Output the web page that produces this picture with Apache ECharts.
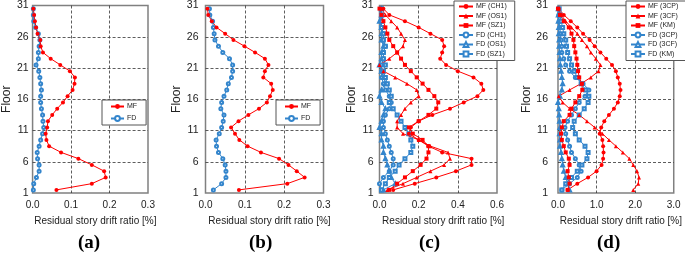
<!DOCTYPE html>
<html><head><meta charset="utf-8">
<script src="https://cdn.jsdelivr.net/npm/echarts/dist/echarts.min.js"></script>
<style>html,body{margin:0;padding:0;background:#fff}#c{width:685px;height:254px}</style>
</head><body><div id="c"></div>
<script>
// floor positions (story mid-heights)
const floors = [1.5,2.5,3.5,4.5,5.5,6.5,7.5,8.5,9.5,10.5,11.5,12.5,13.5,14.5,15.5,16.5,17.5,18.5,19.5,20.5,21.5,22.5,23.5,24.5,25.5,26.5,27.5,28.5,29.5,30.5];
const yTicks = [1,6,11,16,21,26,31];
const xMaxes = [0.3, 0.3, 0.6, 3.0];
const xSteps = [0.1, 0.1, 0.2, 1.0];
const panelLabels = ['(a)','(b)','(c)','(d)'];
const xName = 'Residual story drift ratio [%]';
const yName = 'Floor';

// (a)
const mfA = [0.062,0.154,0.190,0.186,0.154,0.119,0.074,0.043,0.036,0.034,0.038,0.040,0.051,0.064,0.079,0.091,0.104,0.109,0.110,0.097,0.072,0.047,0.027,0.021,0.020,0.013,0.009,0.006,0.004,0.002];
const fdA = [0.002,0.003,0.010,0.017,0.017,0.013,0.012,0.017,0.021,0.026,0.029,0.027,0.026,0.023,0.021,0.021,0.023,0.021,0.019,0.016,0.009,0.015,0.015,0.017,0.019,0.015,0.008,0.003,0.002,0.002];
// (b)
const mfB = [0.085,0.208,0.252,0.232,0.211,0.187,0.141,0.107,0.086,0.075,0.065,0.084,0.109,0.136,0.156,0.164,0.171,0.167,0.147,0.151,0.160,0.151,0.126,0.099,0.071,0.050,0.028,0.016,0.007,0.005];
const fdB = [0.020,0.041,0.052,0.052,0.050,0.044,0.033,0.028,0.027,0.035,0.041,0.045,0.047,0.039,0.041,0.047,0.054,0.058,0.066,0.069,0.069,0.061,0.044,0.033,0.024,0.022,0.020,0.018,0.011,0.010];
// (c)
const mfCH1 = [0.07,0.18,0.29,0.39,0.47,0.47,0.32,0.25,0.20,0.15,0.16,0.20,0.27,0.36,0.43,0.50,0.53,0.52,0.48,0.40,0.34,0.31,0.32,0.33,0.32,0.26,0.20,0.13,0.05,0.02];
const mfOS1 = [0.04,0.12,0.19,0.26,0.33,0.36,0.35,0.26,0.20,0.12,0.09,0.09,0.11,0.13,0.16,0.20,0.19,0.14,0.08,0.02,0.00,0.05,0.09,0.12,0.13,0.11,0.09,0.06,0.03,0.01];
const mfSZ1 = [0.05,0.09,0.13,0.17,0.21,0.24,0.25,0.25,0.22,0.17,0.15,0.20,0.25,0.29,0.30,0.28,0.25,0.22,0.19,0.16,0.13,0.11,0.09,0.07,0.05,0.04,0.03,0.02,0.01,0.00];
const fdCH1 = [0.01,0.00,0.02,0.05,0.07,0.07,0.06,0.05,0.04,0.03,0.02,0.02,0.03,0.05,0.06,0.05,0.03,0.02,0.01,0.01,0.01,0.02,0.02,0.03,0.02,0.02,0.01,0.01,0.01,0.01];
const fdOS1 = [0.02,0.08,0.06,0.05,0.04,0.03,0.02,0.02,0.01,0.01,0.00,0.01,0.02,0.03,0.01,0.00,0.01,0.03,0.02,0.01,0.00,0.01,0.01,0.02,0.01,0.01,0.01,0.00,0.01,0.01];
const fdSZ1 = [0.01,0.03,0.05,0.08,0.10,0.13,0.16,0.17,0.16,0.15,0.13,0.11,0.09,0.07,0.05,0.06,0.05,0.04,0.03,0.02,0.03,0.02,0.02,0.03,0.02,0.02,0.01,0.01,0.01,0.01];
// (d)
const mf3CP = [0.25,0.50,0.78,1.00,1.13,1.17,1.18,1.17,1.15,1.08,1.12,1.20,1.32,1.45,1.55,1.60,1.62,1.60,1.55,1.50,1.40,1.25,1.10,0.95,0.82,0.65,0.50,0.33,0.15,0.02];
const mf3CF = [1.95,2.08,2.10,2.05,1.95,1.85,1.68,1.50,1.32,1.15,0.95,0.75,0.55,0.30,0.12,0.02,0.30,0.60,0.85,1.05,1.10,0.98,0.85,0.75,0.62,0.50,0.35,0.20,0.08,0.02];
const mfKM  = [0.25,0.30,0.28,0.25,0.30,0.28,0.20,0.15,0.10,0.08,0.10,0.15,0.30,0.35,0.45,0.55,0.63,0.62,0.55,0.52,0.50,0.48,0.45,0.42,0.40,0.35,0.28,0.15,0.05,0.00];
const fd3CP = [0.10,0.30,0.50,0.60,0.55,0.45,0.35,0.30,0.25,0.20,0.18,0.25,0.35,0.45,0.55,0.70,0.80,0.65,0.45,0.30,0.20,0.15,0.10,0.10,0.08,0.06,0.05,0.03,0.02,0.01];
const fd3CF = [0.30,0.25,0.20,0.15,0.12,0.10,0.08,0.05,0.05,0.04,0.05,0.04,0.03,0.02,0.00,0.05,0.10,0.12,0.10,0.08,0.06,0.05,0.04,0.03,0.03,0.02,0.02,0.01,0.01,0.01];
const fdKM  = [0.10,0.20,0.35,0.50,0.62,0.75,0.78,0.70,0.55,0.45,0.38,0.42,0.55,0.68,0.78,0.80,0.72,0.60,0.50,0.42,0.35,0.30,0.25,0.22,0.20,0.15,0.12,0.08,0.05,0.03];

const RED = '#ff0000', BLUE = '#3385cc';
const grids = [
  {left:31, top:5, width:117, height:188},
  {left:205.5, top:5, width:118, height:188},
  {left:379.5, top:5, width:117.5, height:188},
  {left:558, top:5, width:117.5, height:188}
];
const yNameGaps = [14, 19, 21, 20];
const yLabelMargins = [4, 7, 6, 10];
const labelCenters = [89, 260, 430, 608];

function mk(name, vals, gi, color, symbol) {
  const hollow = symbol.indexOf('empty') === 0;
  return {
    type:'line', name, xAxisIndex:gi, yAxisIndex:gi,
    data: vals.map((v,i)=>[v, floors[i]]),
    symbol, symbolSize: hollow ? 3 : 4, showSymbol:true,
    lineStyle:{width:1, color}, itemStyle:{color, borderWidth: hollow ? 0.7 : 0},
    emphasis:{disabled:true}
  };
}

const series = [
  mk('FD', fdA, 0, BLUE, 'emptyCircle'), mk('MF', mfA, 0, RED, 'circle'),
  mk('FD', fdB, 1, BLUE, 'emptyCircle'), mk('MF', mfB, 1, RED, 'circle'),
  mk('FD (CH1)', fdCH1, 2, BLUE, 'emptyCircle'), mk('FD (OS1)', fdOS1, 2, BLUE, 'emptyTriangle'), mk('FD (SZ1)', fdSZ1, 2, BLUE, 'emptyRect'),
  mk('MF (CH1)', mfCH1, 2, RED, 'circle'), mk('MF (OS1)', mfOS1, 2, RED, 'triangle'), mk('MF (SZ1)', mfSZ1, 2, RED, 'rect'),
  mk('FD (3CP)', fd3CP, 3, BLUE, 'emptyCircle'), mk('FD (3CF)', fd3CF, 3, BLUE, 'emptyTriangle'), mk('FD (KM)', fdKM, 3, BLUE, 'emptyRect'),
  mk('MF (3CP)', mf3CP, 3, RED, 'circle'), mk('MF (3CF)', mf3CF, 3, RED, 'triangle'), mk('MF (KM)', mfKM, 3, RED, 'rect')
];

const font = 'Liberation Sans';
const xAxis = grids.map((g,i)=>({
  type:'value', gridIndex:i, min:0, max:xMaxes[i], interval:xSteps[i],
  axisLine:{show:false}, axisTick:{show:false},
  axisLabel:{formatter:v=>v.toFixed(1), fontSize:10, color:'#222', margin:7, fontFamily:font},
  splitLine:{show:true, showMinLine:false, showMaxLine:false, lineStyle:{type:[3,2], color:'#333', width:0.8}},
  name:xName, nameLocation:'middle', nameGap:23,
  nameTextStyle:{fontSize:10, color:'#222', fontFamily:font, padding:[0,0,0,10]}
}));
const yAxis = grids.map((g,i)=>({
  type:'value', gridIndex:i, min:yTicks[0], max:yTicks[yTicks.length-1], interval:yTicks[1]-yTicks[0],
  axisLine:{show:false}, axisTick:{show:false},
  axisLabel:{fontSize:10.5, color:'#222', margin:yLabelMargins[i], fontFamily:font},
  splitLine:{show:true, showMinLine:false, showMaxLine:false, lineStyle:{type:[3,2], color:'#333', width:0.8}},
  name:yName, nameLocation:'middle', nameGap:yNameGaps[i],
  nameTextStyle:{fontSize:12, color:'#222', fontFamily:font}
}));

const legBase = {
  orient:'vertical', selectedMode:false, backgroundColor:'#fff',
  borderColor:'#555', borderWidth:1, borderRadius:0,
  itemWidth:14, itemHeight:6, itemGap:2.5,
  textStyle:{fontSize:7, color:'#222', fontFamily:font, padding:[0,0,0,-2]},
  z:10
};
const legend = [
  Object.assign({}, legBase, {data:['MF','FD'], left:102, top:100, itemGap:5, itemWidth:13, padding:[3,9,3,8]}),
  Object.assign({}, legBase, {data:['MF','FD'], left:276, top:100, itemGap:5, itemWidth:13, padding:[3,9,3,8]}),
  Object.assign({}, legBase, {data:['MF (CH1)','MF (OS1)','MF (SZ1)','FD (CH1)','FD (OS1)','FD (SZ1)'], left:454, top:1, padding:[2,8,3,4]}),
  Object.assign({}, legBase, {data:['MF (3CP)','MF (3CF)','MF (KM)','FD (3CP)','FD (3CF)','FD (KM)'], left:626, top:1, padding:[2,8,3,4]})
];

const title = panelLabels.map((t,i)=>({
  text:t, left:labelCenters[i]-11, top:234, padding:0,
  textStyle:{fontFamily:'Liberation Serif', fontWeight:'bold', fontSize:19, color:'#000'}
}));

const chart = echarts.init(document.getElementById('c'), null, {renderer:'canvas'});
chart.setOption({
  animation:false,
  backgroundColor:'#fff',
  title,
  grid: grids.map(g=>Object.assign({show:true, borderColor:'#808080', borderWidth:1.5, backgroundColor:'transparent'}, g)),
  xAxis, yAxis, legend, series
});
</script></body></html>
